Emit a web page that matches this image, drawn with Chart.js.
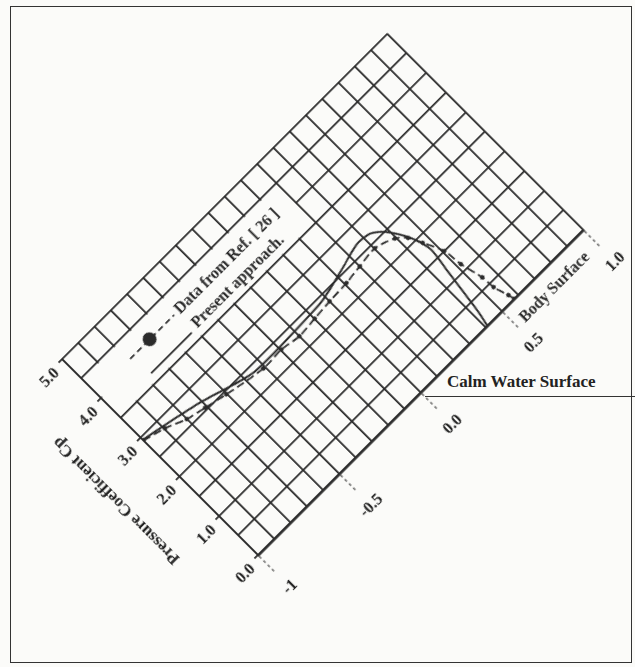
<!DOCTYPE html>
<html lang="en">
<head>
<meta charset="UTF-8">
<title>Pressure Coefficient Cp on Body Surface</title>
<script src="https://cdn.jsdelivr.net/npm/chart.js"></script>
<style>
    html, body { margin: 0; padding: 0; background: #fbfbf9; }
    body { width: 635px; height: 667px; position: relative; overflow: hidden; font-family: 'Liberation Serif', serif; }
    #frame { position: absolute; left: 10px; top: 6px; width: 620px; height: 655px; border: 1.5px solid #333; }
    #water { position: absolute; left: 425px; top: 396px; width: 210px; border-top: 1.6px solid #333; }
    #waterText { position: absolute; left: 447px; top: 372px; font-weight: bold; font-size: 17px; color: #222; }
    #holder { position: absolute; }
</style>
</head>
<body>
<div id="frame"></div>
<div id="water"></div>
<div id="waterText">Calm Water Surface</div>
<div id="holder"><canvas id="cpChart" width="564" height="362"></canvas></div>

<script>
// measured data (Cp along the body surface)
const refX = [-1.0, -0.897, -0.801, -0.71, -0.603, -0.41, -0.297, -0.2, -0.099, 0.0, 0.108, 0.2, 0.302, 0.394, 0.436, 0.466, 0.507, 0.518, 0.543, 0.548, 0.569, 0.575];
const refCp = [2.92, 2.80, 2.64, 2.55, 2.45, 2.31, 2.32, 2.26, 2.29, 2.32, 2.34, 2.38, 2.42, 2.29, 2.13, 1.88, 1.50, 1.12, 0.68, 0.41, 0.12, 0.0];

const presentX = [-1.0, -0.717, -0.462, -0.25, -0.026, 0.134, 0.257, 0.331, 0.384, 0.446, 0.471, 0.456, 0.44, 0.425, 0.41];
const presentCp = [2.94, 2.69, 2.39, 2.38, 2.42, 2.57, 2.70, 2.67, 2.50, 2.08, 1.69, 1.21, 0.73, 0.29, 0.0];

const xTickValues = [-1, -0.5, 0, 0.5, 1];
const xTickLabels = ['-1', '-0.5', '0.0', '0.5', '1.0'];
const yTickValues = [0, 1, 2, 3, 4, 5];
const yTickLabels = ['0.0', '1.0', '2.0', '3.0', '4.0', '5.0'];

const ink = '#2b2b2b';
const font = 'Liberation Serif';

function labelFor(values, labels, v) {
    const i = values.findIndex(t => Math.abs(t - v) < 1e-6);
    return i >= 0 ? labels[i] : '';
}

const overlay = {
    id: 'overlay',
    beforeDatasetsDraw(chart) {
        // blank band behind the legend
        const xs = chart.scales.x, ys = chart.scales.y;
        const ctx = chart.ctx;
        ctx.save();
        ctx.fillStyle = '#fbfbf9';
        const l = xs.getPixelForValue(-1) + 1.5;
        const r = xs.getPixelForValue(0.2) - 1;
        const t = ys.getPixelForValue(4.5) + 1.2;
        const b = ys.getPixelForValue(3.5) - 1.2;
        ctx.fillRect(l, t, r - l, b - t);
        ctx.restore();
    },
    afterDatasetsDraw(chart) {
        const xs = chart.scales.x, ys = chart.scales.y;
        const ctx = chart.ctx;
        const ds = chart.data.datasets;
        ctx.save();
        ctx.strokeStyle = ink;
        ctx.fillStyle = ink;

        // legend row 1 - dashed with big dot
        let y1 = ys.getPixelForValue(4.13);
        ctx.lineWidth = 1.9;
        ctx.setLineDash([6, 4]);
        ctx.beginPath();
        ctx.moveTo(xs.getPixelForValue(-0.79), y1);
        ctx.lineTo(xs.getPixelForValue(-0.52), y1);
        ctx.stroke();
        ctx.setLineDash([]);
        ctx.beginPath();
        ctx.arc(xs.getPixelForValue(-0.67), y1, 7, 0, Math.PI * 2);
        ctx.fill();

        // legend row 2 - solid
        let y2 = ys.getPixelForValue(3.68);
        ctx.lineWidth = 1.9;
        ctx.beginPath();
        ctx.moveTo(xs.getPixelForValue(-0.77), y2);
        ctx.lineTo(xs.getPixelForValue(-0.52), y2);
        ctx.stroke();

        ctx.font = 'bold 16px ' + font;
        ctx.textAlign = 'left';
        ctx.textBaseline = 'middle';
        ctx.fillText(ds[0].label, xs.getPixelForValue(-0.50), ys.getPixelForValue(4.13));
        ctx.fillText(ds[1].label, xs.getPixelForValue(-0.49), ys.getPixelForValue(3.74));

        // axis note
        ctx.textAlign = 'center';
        ctx.fillText('Body Surface', xs.getPixelForValue(0.735), chart.chartArea.bottom + 21);
        ctx.restore();
    }
};

const ctx = document.getElementById('cpChart').getContext('2d');
const chart = new Chart(ctx, {
    type: 'line',
    data: {
        datasets: [
            {
                label: 'Data from Ref. [ 26 ]',
                data: refX.map((x, i) => ({ x: x, y: refCp[i] })),
                borderColor: ink,
                borderWidth: 1.8,
                borderDash: [8, 4],
                pointRadius: 2.3,
                pointBackgroundColor: ink,
                pointBorderWidth: 0,
                tension: 0.3,
                fill: false
            },
            {
                label: 'Present approach.',
                data: presentX.map((x, i) => ({ x: x, y: presentCp[i] })),
                borderColor: ink,
                borderWidth: 2,
                pointRadius: 0,
                tension: 0.25,
                fill: false
            }
        ]
    },
    options: {
        responsive: false,
        animation: false,
        devicePixelRatio: 1,
        layout: { padding: { left: 6, top: 12, right: 24, bottom: 8 } },
        plugins: {
            legend: { display: false },
            tooltip: { enabled: false }
        },
        scales: {
            x: {
                type: 'linear',
                min: -1,
                max: 1,
                afterFit: s => { s.height = 60; },
                ticks: {
                    stepSize: 0.1,
                    autoSkip: false,
                    maxRotation: 0,
                    minRotation: 0,
                    padding: 12,
                    color: '#222',
                    font: { family: font, size: 16, weight: 'bold' },
                    callback: v => labelFor(xTickValues, xTickLabels, v)
                },
                grid: {
                    color: ink,
                    lineWidth: 1.8,
                    tickLength: 24,
                    tickBorderDash: [3, 3],
                    tickWidth: 1.2,
                    tickColor: c => labelFor(xTickValues, xTickLabels, c.tick ? c.tick.value : NaN) ? '#444' : 'rgba(0,0,0,0)'
                },
                border: { color: ink, width: 2.8 }
            },
            y: {
                min: 0,
                max: 5,
                afterFit: s => { s.width = 74; },
                ticks: {
                    stepSize: 0.5,
                    autoSkip: false,
                    padding: 7,
                    labelOffset: 5,
                    color: '#222',
                    font: { family: font, size: 16, weight: 'bold' },
                    callback: v => labelFor(yTickValues, yTickLabels, v)
                },
                grid: {
                    color: ink,
                    lineWidth: 1.8,
                    tickLength: 5,
                    tickColor: c => labelFor(yTickValues, yTickLabels, c.tick ? c.tick.value : NaN) ? ink : 'rgba(0,0,0,0)'
                },
                border: { color: ink, width: 2 },
                title: {
                    display: true,
                    text: 'Pressure Coefficient Cp',
                    color: '#222',
                    padding: 2,
                    font: { family: font, size: 17, weight: 'bold' }
                }
            }
        }
    },
    plugins: [overlay]
});

// turn the chart so the body surface axis runs up to the right
const ca = chart.chartArea;
const holder = document.getElementById('holder');
holder.style.left = (258 - ca.left) + 'px';
holder.style.top = (555 - ca.bottom) + 'px';
holder.style.transformOrigin = ca.left + 'px ' + ca.bottom + 'px';
holder.style.transform = 'rotate(-45deg)';
</script>
</body>
</html>
